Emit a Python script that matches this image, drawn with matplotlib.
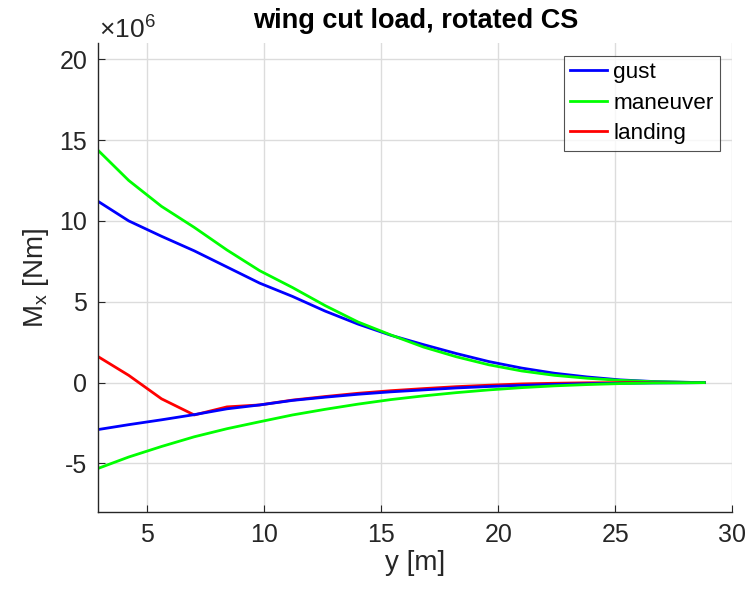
import numpy as np
import matplotlib
matplotlib.use("Agg")
import matplotlib.pyplot as plt
from matplotlib.ticker import FuncFormatter

plt.rcParams['font.family'] = ['Liberation Sans', 'DejaVu Sans']

# spanwise stations [m]
y_pos = [2.9, 4.2, 5.6, 7.0, 8.4, 9.8, 11.2, 12.6, 14.0, 15.4, 16.8, 18.2,
         19.6, 21.0, 22.4, 23.8, 25.2, 26.6, 28.0, 28.8]

# cut moments in 1e6 Nm (max / min envelopes)
gust_max = [11.2, 10.0, 9.05, 8.15, 7.15, 6.15, 5.33, 4.42, 3.62, 2.93, 2.35, 1.8,
            1.3, 0.9, 0.58, 0.35, 0.17, 0.07, 0.02, 0.0]
gust_min = [-2.9, -2.6, -2.3, -1.98, -1.62, -1.38, -1.1, -0.9, -0.72, -0.57, -0.45, -0.33,
            -0.24, -0.17, -0.11, -0.07, -0.04, -0.02, -0.01, 0.0]
man_max = [14.35, 12.5, 10.9, 9.6, 8.2, 6.92, 5.88, 4.76, 3.75, 2.95, 2.2, 1.6,
           1.1, 0.72, 0.45, 0.27, 0.14, 0.06, 0.02, 0.0]
man_min = [-5.3, -4.6, -3.95, -3.35, -2.85, -2.42, -2.0, -1.65, -1.33, -1.05, -0.82, -0.62,
           -0.45, -0.31, -0.2, -0.12, -0.06, -0.02, -0.01, 0.0]
land = [1.6, 0.45, -1.0, -2.0, -1.5, -1.38, -1.08, -0.86, -0.66, -0.5, -0.37, -0.25,
        -0.16, -0.08, -0.04, -0.01, 0.0, 0.01, 0.0, 0.0]

y_pos = np.array(y_pos)
s = 1e6

fig = plt.figure(figsize=(7.5, 5.9), dpi=100)
ax = fig.add_axes([98.3 / 750, 1 - 512 / 590, (732.3 - 98.3) / 750, (512 - 43) / 590])

lw = 2.0
ax.plot(y_pos, np.array(gust_max) * s, color=(0, 0, 1), lw=lw, label='gust')
ax.plot(y_pos, np.array(man_max) * s, color=(0, 1, 0), lw=lw, label='maneuver')
ax.plot(y_pos, np.array(land) * s, color=(1, 0, 0), lw=lw, label='landing')
ax.plot(y_pos, np.array(gust_min) * s, color=(0, 0, 1), lw=lw)
ax.plot(y_pos, np.array(man_min) * s, color=(0, 1, 0), lw=lw)

ax.set_xlim(2.9, 30)
ax.set_ylim(-8e6, 21e6)
ax.set_xticks([5, 10, 15, 20, 25, 30])
ax.set_yticks(np.arange(-5, 21, 5) * s)
ax.yaxis.set_major_formatter(FuncFormatter(lambda v, p: f'{v / s:g}'))

dark = '#262626'
for side in ['top', 'right']:
    ax.spines[side].set_visible(False)
for side in ['left', 'bottom']:
    ax.spines[side].set_color(dark)
    ax.spines[side].set_linewidth(1.0)
ax.tick_params(direction='in', length=5, colors=dark, labelsize=18, pad=8)
ax.grid(True, color='#dcdcdc', lw=1.0)
ax.set_axisbelow(True)

ax.set_xlabel('y [m]', fontsize=20, color=dark, labelpad=2)
ax.set_ylabel('M$_\\mathregular{x}$ [Nm]', fontsize=20, color=dark, labelpad=6)
ax.set_title('wing cut load, rotated CS', fontsize=19.5, fontweight='bold', pad=11)
fig.text(99 / 750, 1 - 29 / 590, '×10$^\\mathregular{6}$', fontsize=19, color=dark,
         ha='left', va='center')

leg = ax.legend(loc='upper right', bbox_to_anchor=(720 / 750, 1 - 55.7 / 590),
                bbox_transform=fig.transFigure, borderaxespad=0, fontsize=16.2,
                frameon=True, fancybox=False, handlelength=1.62, handletextpad=0.3,
                labelspacing=0.43, borderpad=0.28)
leg.get_frame().set_edgecolor(dark)
leg.get_frame().set_linewidth(0.8)

fig.savefig('out.png', dpi=100)
